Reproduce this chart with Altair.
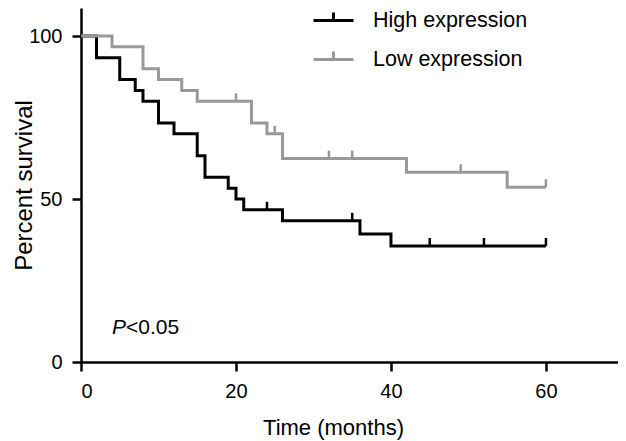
import altair as alt
import pandas as pd

FONT = "Liberation Sans"

# Kaplan-Meier steps (time in months, percent survival after event)
high_t = [0, 2, 5, 7, 8, 10, 12, 15, 16, 19, 20, 21, 26, 36, 40, 60]
high_s = [100, 93.3, 86.7, 83.3, 80, 73.3, 70, 63.3, 56.7, 53.3, 50, 46.7, 43.3, 39.3, 35.6, 35.6]
low_t = [0, 4, 8, 10, 13, 15, 22, 24, 26, 42, 55, 60]
low_s = [100, 96.7, 90, 86.7, 83.3, 80, 73.3, 70, 62.4, 58.2, 53.6, 53.6]

# censored observations
high_ct = [24, 35, 45, 52, 60]
high_cs = [46.7, 43.3, 35.6, 35.6, 35.6]
low_ct = [20, 25, 32, 35, 49, 60]
low_cs = [80, 70, 62.4, 62.4, 58.2, 53.6]

groups = ["High expression", "Low expression"]
colors = ["#000000", "#999999"]

x_ticks = [0, 20, 40, 60]
y_ticks = [0, 50, 100]

ann_x = [4]
ann_y = [10.4]

lines = pd.concat([
    pd.DataFrame({"t": high_t, "s": high_s, "g": groups[0]}),
    pd.DataFrame({"t": low_t, "s": low_s, "g": groups[1]}),
])
cens_high = pd.DataFrame({"t": high_ct, "s": high_cs})
cens_low = pd.DataFrame({"t": low_ct, "s": low_cs})
ann = pd.DataFrame({"x": ann_x, "y": ann_y})

xscale = alt.Scale(domain=[0, 69.3], nice=False, zero=False)
yscale = alt.Scale(domain=[0, 108.6], nice=False)

xaxis = alt.Axis(values=x_ticks, title="Time (months)", titleX=252, titleY=65,
                 titleAlign="center", titleBaseline="middle", titleFontSize=22,
                 labelPadding=10)
yaxis = alt.Axis(values=y_ticks, title="Percent survival", titleX=-50, titleY=177,
                 titleAlign="center", titleBaseline="alphabetic", titleAngle=270,
                 titleFontSize=24, labelPadding=10)

line = alt.Chart(lines).mark_line(interpolate="step-after", strokeWidth=3).encode(
    x=alt.X("t:Q", scale=xscale, axis=xaxis),
    y=alt.Y("s:Q", scale=yscale, axis=yaxis),
    color=alt.Color("g:N", scale=alt.Scale(domain=groups, range=colors),
                    legend=alt.Legend(orient="none", legendX=231, legendY=-9, title=None,
                                      symbolType="M-1,0H1M0,0V-0.4", symbolSize=1600,
                                      symbolStrokeWidth=3, symbolFillColor="transparent",
                                      labelFontSize=21.5, labelFont=FONT, labelColor="#000000",
                                      labelOffset=18, rowPadding=7, padding=0)),
)

tick_h = alt.Chart(cens_high).mark_tick(orient="vertical", size=8, thickness=2.5, yOffset=-4,
                                        color=colors[0], opacity=1).encode(
    x=alt.X("t:Q", scale=xscale), y=alt.Y("s:Q", scale=yscale))
tick_l = alt.Chart(cens_low).mark_tick(orient="vertical", size=8, thickness=2.5, yOffset=-4,
                                       color=colors[1], opacity=1).encode(
    x=alt.X("t:Q", scale=xscale), y=alt.Y("s:Q", scale=yscale))

p_text = alt.Chart(ann).mark_text(text="P", fontStyle="italic", align="left", baseline="middle",
                                  fontSize=21, font=FONT, color="#000000").encode(
    x=alt.X("x:Q", scale=xscale), y=alt.Y("y:Q", scale=yscale))
v_text = alt.Chart(ann).mark_text(text="<0.05", align="left", baseline="middle", dx=14,
                                  fontSize=21, font=FONT, color="#000000").encode(
    x=alt.X("x:Q", scale=xscale), y=alt.Y("y:Q", scale=yscale))

chart = alt.layer(line, tick_h, tick_l, p_text, v_text).properties(
    width=537, height=354,
    autosize=alt.AutoSizeParams(type="none"),
    padding={"left": 73, "top": 0, "right": 0, "bottom": 79},
).configure_view(stroke=None).configure_axis(
    grid=False, domainColor="#000000", domainWidth=2.5, tickColor="#000000", tickWidth=2.5,
    tickSize=9, labelFont=FONT, labelFontSize=20, labelColor="#000000",
    titleFont=FONT, titleFontWeight="normal", titleColor="#000000",
)

chart.save("out.html", embed_options={"renderer": "svg", "actions": False})
